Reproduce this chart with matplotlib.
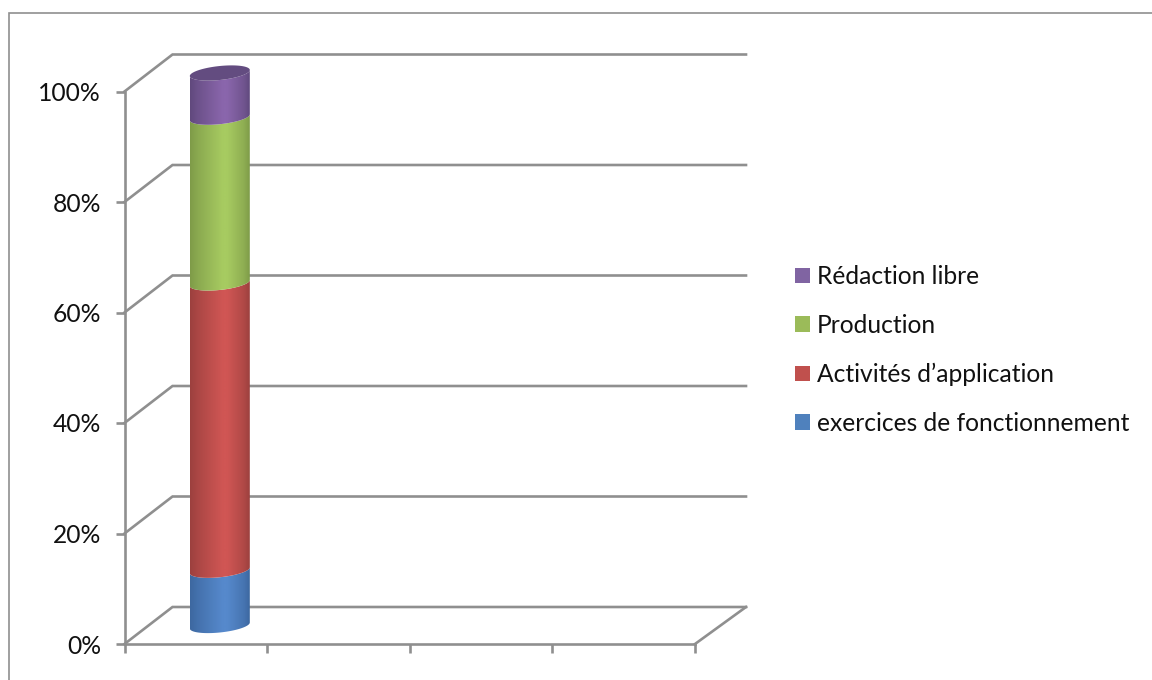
import matplotlib
matplotlib.use("Agg")
import matplotlib.pyplot as plt
import numpy as np
from matplotlib.lines import Line2D
from matplotlib.patches import PathPatch, Patch
from matplotlib.path import Path

plt.rcParams['font.family'] = ['Lato', 'DejaVu Sans']

# Stacked shares (percent), bottom to top
SERIES_NAMES = ["exercices de fonctionnement", "Activités d’application", "Production", "Rédaction libre"]
SERIES_VALUES = [10, 52, 30, 8]
Y_TICKS = [0, 20, 40, 60, 80, 100]
X_TICKS = [0, 1, 2, 3, 4]
BAR_CATEGORY = 0.5

WIDTH, HEIGHT, DPI = 1152, 680, 100
GRID_COLOR = "#8f8f8f"
LINE_W = 1.9
FONT_SIZE = 17.7

# legend colour, then edge and highlight colour of the cylinder shading
LEGEND_COLORS = ["#4f81bd", "#c0504d", "#9bbb59", "#8064a2"]
EDGE_COLORS = [(58, 100, 155), (150, 62, 60), (122, 150, 70), (92, 70, 120)]
LIGHT_COLORS = [(86, 137, 204), (208, 86, 84), (167, 203, 97), (138, 102, 172)]
TOP_COLOR = "#634c80"

fig = plt.figure(figsize=(WIDTH / DPI, HEIGHT / DPI), dpi=DPI, facecolor="white")

# Frame around the chart, only its top and left sides are in view
fig.add_artist(Line2D([8.5 / WIDTH, 8.5 / WIDTH, 1], [0, 1 - 12.5 / HEIGHT, 1 - 12.5 / HEIGHT],
                      transform=fig.transFigure, color="#8f8f8f", linewidth=1.2, solid_joinstyle="miter"))

# Axes cover the front plane of the 3D box
ax_left, ax_right, ax_top, ax_bottom = 124.5, 695, 91.5, 644
ax = fig.add_axes([ax_left / WIDTH, 1 - ax_bottom / HEIGHT, (ax_right - ax_left) / WIDTH, (ax_bottom - ax_top) / HEIGHT])
ax.patch.set_alpha(0)

px_x = (X_TICKS[-1] - X_TICKS[0]) / (ax_right - ax_left)
px_y = (Y_TICKS[-1] - Y_TICKS[0]) / (ax_bottom - ax_top)
depth_x = 48 * px_x
depth_x_right = 51 * px_x
depth_y = 37 * px_y

# Back wall gridlines and the diagonals joining them to the axis
for tick in Y_TICKS:
    ax.plot([X_TICKS[0], X_TICKS[0] + depth_x, X_TICKS[-1] + depth_x_right],
            [tick, tick + depth_y, tick + depth_y],
            color=GRID_COLOR, linewidth=LINE_W, clip_on=False, zorder=1, solid_joinstyle="miter")
ax.plot([X_TICKS[-1], X_TICKS[-1] + depth_x_right], [0, depth_y], color=GRID_COLOR, linewidth=LINE_W,
        clip_on=False, zorder=1)

# Cylinder, one shaded piece per series
center_x = BAR_CATEGORY + depth_x / 2
half_w = 30 * px_x
half_h = 7 * px_y
tilt = 3 * px_y
t = np.linspace(np.pi, 2 * np.pi, 60)
arc_x = center_x + half_w * np.cos(t)
arc_y = half_h * np.sin(t) + tilt * np.cos(t)
profile_pos = [0, 0.12, 0.55, 0.62, 0.9, 1]
profile_mix = [0.1, 0.35, 1, 1, 0.45, 0.1]
shade = np.interp(np.linspace(0, 1, 120), profile_pos, profile_mix)

base = depth_y / 2
for value, low, high in zip(SERIES_VALUES, EDGE_COLORS, LIGHT_COLORS):
    top = base + value
    verts = np.vstack([np.column_stack([arc_x, base + arc_y]),
                       np.column_stack([arc_x[::-1], top + arc_y[::-1]])])
    outline = PathPatch(Path(np.vstack([verts, verts[0]])), transform=ax.transData, facecolor="none", edgecolor="none")
    ax.add_patch(outline)
    low_c, high_c = np.array(low) / 255, np.array(high) / 255
    colors = low_c[None, None, :] + shade[None, :, None] * (high_c - low_c)[None, None, :]
    im = ax.imshow(colors, extent=[center_x - half_w, center_x + half_w, base - half_h - tilt, top + half_h + tilt],
                   aspect="auto", origin="lower", zorder=3, interpolation="bilinear")
    im.set_clip_box(fig.bbox)
    im.set_clip_path(outline)
    base = top

# Top cap of the stack
cap_t = np.linspace(0, 2 * np.pi, 120)
cap_x = center_x + half_w * np.cos(cap_t)
cap_y = base + half_h * np.sin(cap_t) + tilt * np.cos(cap_t)
ax.fill(cap_x, cap_y, color=TOP_COLOR, zorder=4, clip_on=False, linewidth=0)

ax.set_xlim(X_TICKS[0], X_TICKS[-1])
ax.set_ylim(Y_TICKS[0], Y_TICKS[-1])
ax.set_xticks(X_TICKS)
ax.set_xticklabels([])
ax.set_yticks(Y_TICKS)
ax.set_yticklabels([f"{tick}%" for tick in Y_TICKS])
ax.tick_params(axis="both", length=6.5, width=LINE_W, color=GRID_COLOR, labelsize=FONT_SIZE, labelcolor="#111111", pad=10.5)
for side in ["top", "right"]:
    ax.spines[side].set_visible(False)
for side in ["left", "bottom"]:
    ax.spines[side].set_color(GRID_COLOR)
    ax.spines[side].set_linewidth(LINE_W)

handles = [Patch(facecolor=c, edgecolor="none", label=n) for c, n in zip(LEGEND_COLORS, SERIES_NAMES)]
fig.legend(handles=handles[::-1], loc="center left", bbox_to_anchor=(795 / WIDTH, 1 - 350 / HEIGHT),
           frameon=False, fontsize=FONT_SIZE, handlelength=0.61, handleheight=0.61, handletextpad=0.28,
           labelspacing=1.05, labelcolor="#111111", borderpad=0, borderaxespad=0)

fig.savefig("out.png", dpi=DPI)
plt.close(fig)
